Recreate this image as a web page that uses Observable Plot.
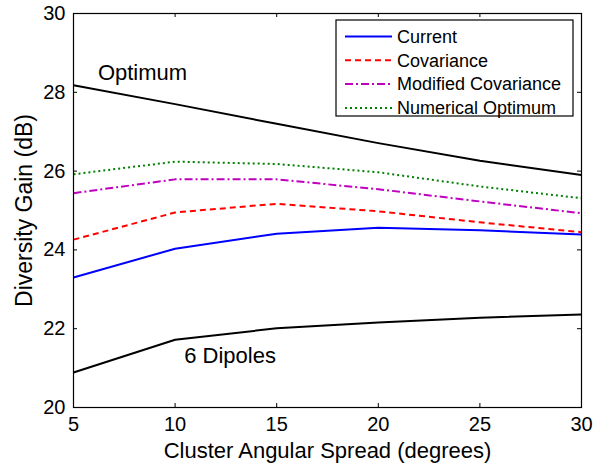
<!DOCTYPE html>
<html>
<head>
<meta charset="utf-8">
<script src="https://cdn.jsdelivr.net/npm/d3@7"></script>
<script src="https://cdn.jsdelivr.net/npm/@observablehq/plot@0.6"></script>
<style>
  html, body { margin: 0; padding: 0; background: white; }
  #chart { position: relative; width: 595px; height: 463px; }
</style>
</head>
<body>
<div id="chart"></div>
<script>
// ---- data ----
const spread = [5, 10, 15, 20, 25, 30];
const current = [23.30, 24.03, 24.41, 24.56, 24.50, 24.39];
const covariance = [24.26, 24.95, 25.17, 24.98, 24.70, 24.45];
const modifiedCovariance = [25.44, 25.79, 25.79, 25.54, 25.23, 24.93];
const numericalOptimum = [25.92, 26.24, 26.18, 25.97, 25.61, 25.31];
const optimum = [28.18, 27.70, 27.20, 26.71, 26.26, 25.90];
const sixDipoles = [20.89, 21.72, 22.01, 22.16, 22.28, 22.36];
const xTicks = [5, 10, 15, 20, 25, 30];
const yTicks = [20, 22, 24, 26, 28, 30];
const annotationText = ["Optimum", "6 Dipoles"];
const annotationX = [6.2, 10.45];
const annotationY = [28.5, 21.3];

// ---- styles ----
const series = [
  {name: "Current", values: current, stroke: "#0000ff", dash: null, legend: true},
  {name: "Covariance", values: covariance, stroke: "#ff0000", dash: "6,4", legend: true},
  {name: "Modified Covariance", values: modifiedCovariance, stroke: "#c000c0", dash: "8,3,2,3", legend: true},
  {name: "Numerical Optimum", values: numericalOptimum, stroke: "#008000", dash: "2,3", legend: true},
  {name: "Optimum", values: optimum, stroke: "#000000", dash: null, legend: false},
  {name: "6 Dipoles", values: sixDipoles, stroke: "#000000", dash: null, legend: false}
];

const W = 595, H = 463, mL = 73, mR = 14, mT = 13, mB = 56;
const iw = W - mL - mR, ih = H - mT - mB, tk = 4;
const font = "'Liberation Sans', Arial, Helvetica, sans-serif";

const lineMarks = series.map(s =>
  Plot.line(spread.map((x, i) => ({x, y: s.values[i]})), {
    x: "x", y: "y", stroke: s.stroke, strokeWidth: 2,
    strokeDasharray: s.dash, strokeLinejoin: "round", strokeLinecap: "butt"
  })
);

const annotations = annotationText.map((t, i) => ({t, x: annotationX[i], y: annotationY[i]}));

const chart = Plot.plot({
  width: W, height: H,
  marginLeft: mL, marginRight: mR, marginTop: mT, marginBottom: mB,
  style: {fontFamily: font, background: "white", color: "black", overflow: "visible"},
  x: {domain: [5, 30]},
  y: {domain: [20, 30]},
  marks: [
    ...lineMarks,
    Plot.text(annotations, {x: "x", y: "y", text: "t", textAnchor: "start", fontSize: 22, fill: "black"}),
    Plot.tickX(xTicks, {x: d => d, insetTop: ih - tk, stroke: "black"}),
    Plot.tickX(xTicks, {x: d => d, insetBottom: ih - tk, stroke: "black"}),
    Plot.tickY(yTicks, {y: d => d, insetRight: iw - tk, stroke: "black"}),
    Plot.tickY(yTicks, {y: d => d, insetLeft: iw - tk, stroke: "black"}),
    Plot.frame({stroke: "black", strokeWidth: 1.2}),
    Plot.axisX({ticks: xTicks, tickSize: 0, tickPadding: 9, fontSize: 20,
      label: "Cluster Angular Spread (degrees)", labelAnchor: "center", labelArrow: "none", labelOffset: 50}),
    Plot.axisY({ticks: yTicks, tickSize: 0, tickPadding: 8, fontSize: 20,
      label: "Diversity Gain (dB)", labelAnchor: "center", labelArrow: "none", labelOffset: 58})
  ]
});

// axis label font sizes
d3.select(chart).selectAll("g[aria-label='x-axis label'] text").attr("font-size", 22);
d3.select(chart).selectAll("g[aria-label='y-axis label'] text").attr("font-size", 23);

// ---- legend (inside the plot, top right) ----
const svg = d3.select(chart);
const lg = svg.append("g").attr("font-family", font).attr("font-size", 18).attr("text-anchor", "start");
const lx = 336, ly = 20, lw = 237, lh = 96, rowH = 23.8, row0 = 16.5;
lg.append("rect").attr("x", lx).attr("y", ly).attr("width", lw).attr("height", lh)
  .attr("fill", "white").attr("stroke", "black").attr("stroke-width", 1.2);
series.filter(s => s.legend).forEach((s, i) => {
  const cy = ly + row0 + i * rowH;
  lg.append("line").attr("x1", lx + 9).attr("x2", lx + 56).attr("y1", cy).attr("y2", cy)
    .attr("stroke", s.stroke).attr("stroke-width", 2)
    .attr("stroke-dasharray", s.dash);
  lg.append("text").attr("x", lx + 61).attr("y", cy).attr("dy", "0.35em")
    .attr("text-anchor", "start").attr("fill", "black").text(s.name);
});

document.getElementById("chart").append(chart);
</script>
</body>
</html>
